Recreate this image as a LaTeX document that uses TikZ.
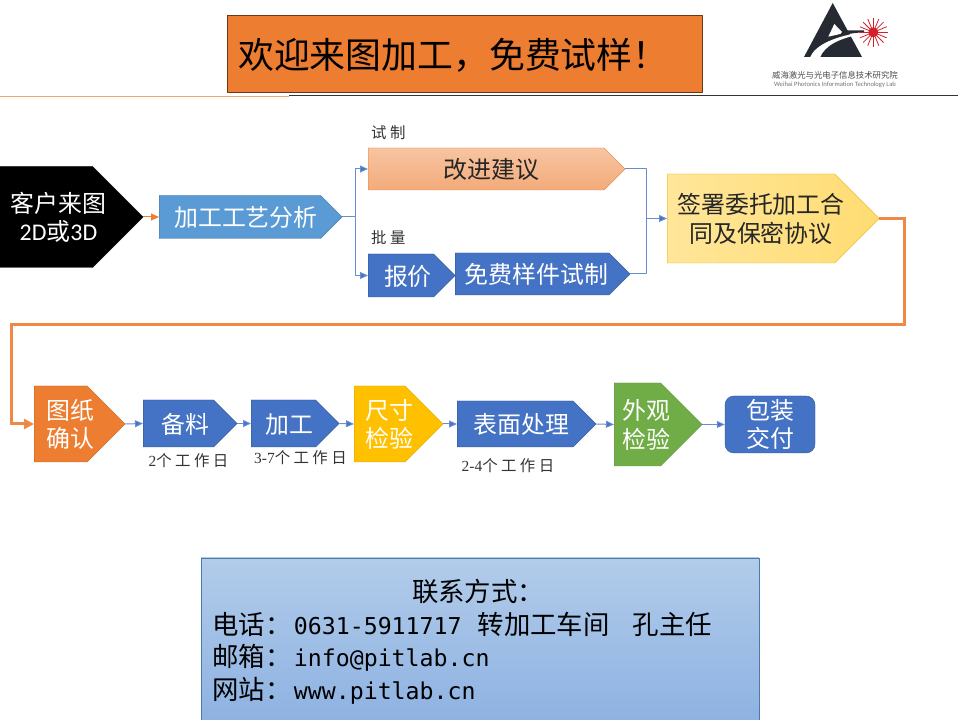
\documentclass[tikz,border=0pt]{standalone}
\usepackage{fontspec}
\usepackage{tikz}
\usetikzlibrary{arrows.meta,shapes}
\setmainfont{Noto Sans CJK SC}
\newfontfamily\calfont{Carlito}
\newfontfamily\monofont{DejaVu Sans Mono}
\newfontfamily\serffont{Liberation Serif}
\newfontfamily\widefont[LetterSpace=22]{Noto Sans CJK SC}
\definecolor{orangefill}{HTML}{ED7D31}
\definecolor{bluefill}{HTML}{4472C4}
\definecolor{blueedge}{HTML}{2F528F}
\definecolor{skyfill}{HTML}{5B9BD5}
\definecolor{goldfill}{HTML}{FFC000}
\definecolor{greenfill}{HTML}{70AD47}
\definecolor{logodark}{HTML}{262B33}
\definecolor{logored}{HTML}{D3202C}
\definecolor{contacttop}{HTML}{B2CCEA}
\definecolor{contactbot}{HTML}{8EB2E2}
\newcommand\nudged[2]{\makebox[0pt]{\kern#1bp\raisebox{-10bp}[0pt][0pt]{\begin{tabular}{@{}c@{}}#2\end{tabular}}}}
\tikzset{
  plate/.style={shape=signal,signal to=east,signal pointer angle=90,draw,inner sep=0pt,anchor=west,font=\fontsize{24}{28}\selectfont},
  link/.style={draw=bluefill!80,line width=1bp,-{Triangle[length=8bp,width=7bp,fill=bluefill]}},
  note/.style={text=black!80,inner sep=0pt,font=\fontsize{15.5}{18}\selectfont\widefont},
  contactline/.style={anchor=west,inner sep=0pt,font=\fontsize{26.5}{30}\selectfont},
}
\begin{document}
\begin{tikzpicture}[>=latex,line join=bevel]
  \useasboundingbox (0bp,0bp) rectangle (960bp,720bp);
  % Title
  \node [draw=black!55!orangefill,fill=orangefill,minimum width=475bp,minimum height=77bp,inner sep=0pt] (title) at (464.5bp,666.5bp) {};
  \node [anchor=west,inner sep=0pt,font=\fontsize{36}{40}\selectfont] (titletext) at (238bp,665bp) {欢迎来图加工，免费试样！};
  % Header rule
  \coordinate (ruleL) at (0bp,624bp);
  \coordinate (ruleM) at (289bp,624bp);
  \coordinate (ruleR) at (958bp,624bp);
  \draw [orangefill!70,line width=0.8bp] (ruleL) -- (ruleM);
  \draw [black!80,line width=1bp] (ruleM) -- (ruleR);
  % Logo
  \fill [logodark] (832.7bp,717bp) -- (804bp,663bp) -- (862bp,663bp) -- cycle;
  \fill [white] (834.3bp,696bp) -- (828.3bp,683.3bp) -- (843.3bp,686.7bp) -- cycle;
  \fill [logodark] (843bp,689.5bp) -- (864bp,689.5bp) -- (864bp,688bp) -- (840bp,685bp) -- cycle;
  \fill [white] (810bp,662.5bp) .. controls (815bp,675bp) and (835bp,684bp) .. (864bp,688bp) -- (864bp,686.5bp) .. controls (840bp,682bp) and (825bp,675bp) .. (820bp,662.5bp) -- cycle;
  \foreach \a in {0,22.5,...,337.5}
    \draw [logored,line width=0.8bp] (873.3bp,687.7bp) -- ++(\a:14.5bp);
  \fill [logored] (873.3bp,687.7bp) circle (5bp);
  \node [inner sep=0pt,text=black!70,font=\fontsize{8.4}{10}\selectfont] (logocn) at (835bp,645bp) {威海激光与光电子信息技术研究院};
  \node [inner sep=0pt,text=black!55,font=\fontsize{6.6}{8}\calfont] (logoen) at (835bp,635bp) {Weihai Photonics Information Technology Lab};
  % Node: customer
  \node [plate,draw=black,fill=black,text=white,minimum width=145bp,minimum height=101bp] (customer) at (-2bp,503bp) {\nudged{26}{客户来图\\{\calfont 2D}或{\calfont 3D}}};
  % Node: analysis
  \node [plate,draw=skyfill!70!black,fill=skyfill,text=white,minimum width=183bp,minimum height=43bp] (analysis) at (159bp,503bp) {\nudged{12}{加工工艺分析}};
  % Node: advice
  \node [plate,draw=orangefill,top color=orangefill!45,bottom color=orangefill!65,text=black!85,minimum width=257bp,minimum height=42bp] (advice) at (368bp,551bp) {\nudged{10}{改进建议}};
  \node [note,anchor=west] (trial) at (371bp,587bp) {试制};
  % Node: quote
  \node [plate,draw=blueedge,fill=bluefill,text=white,minimum width=87bp,minimum height=43bp] (quote) at (368bp,444.5bp) {\nudged{14}{报价}};
  \node [note,anchor=west] (batch) at (371bp,482bp) {批量};
  % Node: sample
  \node [plate,draw=blueedge,fill=bluefill,text=white,minimum width=175bp,minimum height=42bp] (sample) at (455bp,446bp) {\nudged{8}{免费样件试制}};
  % Node: contract
  \node [plate,draw=goldfill!90!black,left color=goldfill!40,right color=goldfill!55,text=black!85,minimum width=212bp,minimum height=89bp] (contract) at (667bp,501.5bp) {\nudged{20}{签署委托加工合\\同及保密协议}};
  % Node: drawing
  \node [plate,draw=orangefill!80!black,fill=orangefill,text=white,minimum width=91bp,minimum height=76bp] (drawing) at (34bp,296bp) {\nudged{20}{图纸\\确认}};
  % Node: material
  \node [plate,draw=blueedge,fill=bluefill,text=white,minimum width=94bp,minimum height=47bp] (material) at (143bp,296.5bp) {\nudged{14}{备料}};
  \node [note] (days1) at (188.5bp,259bp) {{\serffont 2}个工作日};
  % Node: machining
  \node [plate,draw=blueedge,fill=bluefill,text=white,minimum width=88bp,minimum height=47bp] (machining) at (251bp,296.5bp) {\nudged{12}{加工}};
  \node [note] (days2) at (300.5bp,262bp) {{\serffont 3-7}个工作日};
  % Node: sizecheck
  \node [plate,draw=goldfill!85!black,fill=goldfill,text=white,minimum width=89bp,minimum height=76bp] (sizecheck) at (354bp,296bp) {\nudged{20}{尺寸\\检验}};
  % Node: surface
  \node [plate,draw=blueedge,fill=bluefill,text=white,minimum width=139bp,minimum height=46bp] (surface) at (457bp,296bp) {\nudged{12}{表面处理}};
  \node [note] (days3) at (508bp,254bp) {{\serffont 2-4}个工作日};
  % Node: looks
  \node [plate,draw=greenfill!85!black,fill=greenfill,text=white,minimum width=88bp,minimum height=83bp] (looks) at (614bp,295.5bp) {\nudged{18}{外观\\检验}};
  % Node: packing
  \node [draw=blueedge,fill=bluefill,text=white,rounded corners=9bp,inner sep=0pt,align=center,minimum width=90bp,minimum height=57bp,font=\fontsize{24}{28}\selectfont] (packing) at (770bp,295.5bp) {包装\\交付};
  % Edge: customer -> analysis
  \draw [link,draw=orangefill,-{Triangle[length=8bp,width=7bp,fill=orangefill]}] (customer.east) -- (analysis.west);
  % Edge: analysis -> advice
  \coordinate (splitA) at (355bp,503bp);
  \draw [link] (analysis.east) -- (splitA) |- (advice.west);
  % Edge: analysis -> quote
  \draw [link] (splitA) |- (quote.west);
  % Edge: advice -> contract
  \coordinate (joinA) at (646bp,501.5bp);
  \draw [link] (advice.east) -| (joinA) -- (contract.west);
  % Edge: sample -> contract
  \draw [draw=bluefill!80,line width=1bp] (sample.east) -| (joinA);
  % Edge: contract -> drawing
  \coordinate (wrapA) at (904bp,395bp);
  \coordinate (wrapB) at (11bp,395bp);
  \draw [draw=orangefill!90,line width=3bp,line join=miter,-{Triangle[length=10bp,width=10bp,fill=orangefill]}] (contract.east) -| (wrapA) -- (wrapB) |- (drawing.west);
  % Edge: second row
  \draw [link] (drawing.east) -- (material.west);
  \draw [link] (material.east) -- (machining.west);
  \draw [link] (machining.east) -- (sizecheck.west);
  \draw [link] (sizecheck.east) -- (surface.west);
  \draw [link] (surface.east) -- (looks.west);
  \draw [link] (looks.east) -- (packing.west);
  % Contact
  \node [draw=skyfill!80!black,top color=contacttop,bottom color=contactbot,minimum width=558bp,minimum height=162bp,inner sep=0pt] (contact) at (480bp,81bp) {};
  \node [inner sep=0pt,font=\fontsize{26.5}{30}\selectfont] (contacthead) at (478bp,129bp) {联系方式：};
  \node [contactline] (phone) at (212bp,96bp) {电话：\kern2.5bp{\fontsize{23.3}{30}\monofont 0631-5911717}\kern16bp 转加工车间\kern23bp 孔主任};
  \node [contactline] (mail) at (212bp,62bp) {邮箱：\kern2.5bp{\fontsize{23.3}{30}\monofont info@pitlab.cn}};
  \node [contactline] (web) at (212bp,29bp) {网站：\kern2.5bp{\fontsize{23.3}{30}\monofont www.pitlab.cn}};
\end{tikzpicture}
\end{document}
